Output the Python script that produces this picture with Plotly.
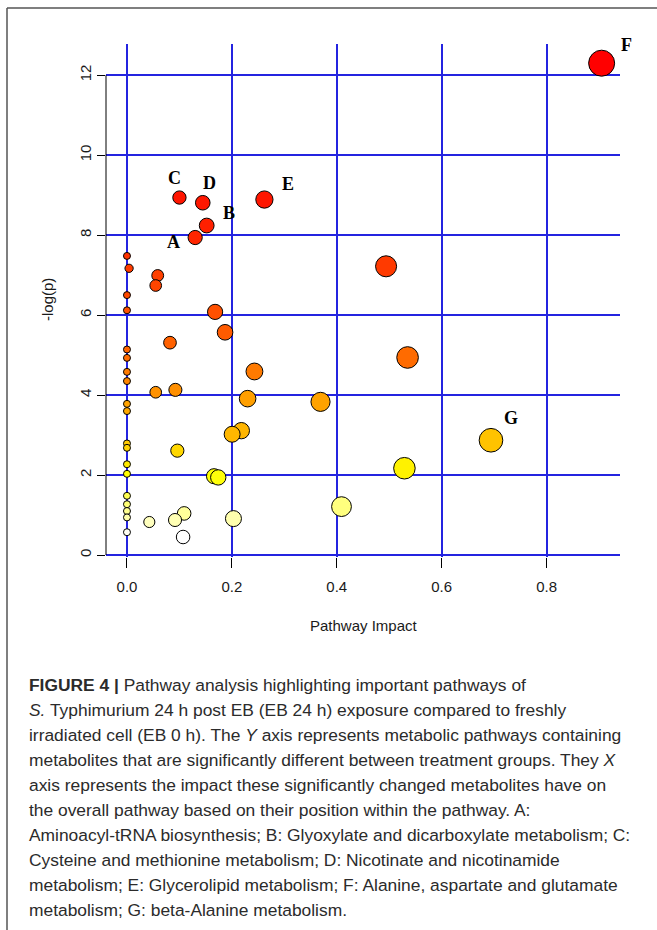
import plotly.graph_objects as go

# ---------------- data ----------------
pathway_label = ["A", "B", "C", "D", "E", "F", "G",
                 "", "", "", "", "", "", "", "", "", "", "", "", "", "", "", "", "", "", "",
                 "", "", "", "", "", "", "", "", "", "", "", "", "", "", "", "", "", "", "", "", "", "", "", ""]
impact = [0.130, 0.152, 0.100, 0.1445, 0.262, 0.905, 0.694,
          0.0, 0.004, 0.0, 0.0, 0.0, 0.0, 0.0, 0.0, 0.0, 0.0, 0.0, 0.0, 0.0, 0.0, 0.0, 0.0, 0.0, 0.0, 0.0,
          0.0586, 0.0548, 0.168, 0.187, 0.082, 0.0548, 0.0923, 0.243, 0.230, 0.218, 0.2005, 0.096,
          0.166, 0.174, 0.109, 0.0916, 0.0426, 0.107, 0.203, 0.369, 0.494, 0.535, 0.529, 0.409]
neg_log_p = [7.94, 8.24, 8.94, 8.81, 8.89, 12.30, 2.87,
             7.48, 7.17, 6.50, 6.12, 5.14, 4.93, 4.58, 4.35, 3.78, 3.60, 2.79, 2.68, 2.27, 2.03, 1.48, 1.27, 1.10, 0.94, 0.57,
             6.99, 6.74, 6.08, 5.57, 5.31, 4.07, 4.13, 4.59, 3.91, 3.11, 3.02, 2.61,
             1.97, 1.94, 1.04, 0.875, 0.825, 0.45, 0.91, 3.83, 7.22, 4.94, 2.17, 1.21]
pathway_label = pathway_label[:len(impact)]

x_ticks = [0.0, 0.2, 0.4, 0.6, 0.8]
x_ticktext = ["0.0", "0.2", "0.4", "0.6", "0.8"]
y_ticks = [0, 2, 4, 6, 8, 10, 12]

caption_lines = [
    "<b>FIGURE 4 |</b> Pathway analysis highlighting important pathways of",
    "<i>S.</i> Typhimurium 24 h post EB (EB 24 h) exposure compared to freshly",
    "irradiated cell (EB 0 h). The <i>Y</i> axis represents metabolic pathways containing",
    "metabolites that are significantly different between treatment groups. They <i>X</i>",
    "axis represents the impact these significantly changed metabolites have on",
    "the overall pathway based on their position within the pathway. A:",
    "Aminoacyl-tRNA biosynthesis; B: Glyoxylate and dicarboxylate metabolism; C:",
    "Cysteine and methionine metabolism; D: Nicotinate and nicotinamide",
    "metabolism; E: Glycerolipid metabolism; F: Alanine, aspartate and glutamate",
    "metabolism; G: beta-Alanine metabolism.",
]

# ---------------- styling ----------------
W, H = 657, 930
PL, PT, PW, PH = 106, 44, 514, 513   # plot area in px


def pxx(x):
    return (x - PL) / PW


def pxy(y):
    return (PT + PH - y) / PH


CMIN, CMAX = 0.45, 12.3
color_stops = [
    (0.45, "#ffffff"), (0.6, "#fffff0"), (0.85, "#ffffb8"), (1.1, "#ffff90"),
    (1.5, "#ffff50"), (2.0, "#ffff00"), (2.3, "#ffe800"), (2.7, "#ffd200"),
    (3.0, "#ffb800"), (3.9, "#ffa000"), (4.1, "#ff9000"), (4.6, "#ff7a00"),
    (5.0, "#ff6800"), (5.6, "#ff5a00"), (6.1, "#ff5000"), (7.0, "#ff4000"),
    (7.5, "#ff3200"), (8.0, "#ff2400"), (9.0, "#ff1400"), (12.3, "#ff0000"),
]
colorscale = [[(v - CMIN) / (CMAX - CMIN), c] for v, c in color_stops]
sizes = [7 + 20 * (v ** 0.5) for v in impact]

label_offsets = {"A": (-22, -4), "B": (22, 13), "C": (-5, 20), "D": (7, 20),
                 "E": (24, 16), "F": (25, 18), "G": (20, 22)}

GRID = "#2424e0"
TXT = "#1a1a1a"

fig = go.Figure()
fig.add_trace(go.Scatter(
    x=impact, y=neg_log_p, mode="markers",
    marker=dict(size=sizes, color=neg_log_p, colorscale=colorscale,
                cmin=CMIN, cmax=CMAX, line=dict(color="#000000", width=1),
                opacity=1),
    hoverinfo="x+y", showlegend=False,
))

annotations = []
for lab, xv, yv in zip(pathway_label, impact, neg_log_p):
    if lab:
        dx, dy = label_offsets[lab]
        annotations.append(dict(
            x=xv, y=yv, xref="x", yref="y", text=lab, showarrow=False,
            xshift=dx, yshift=dy, xanchor="center", yanchor="middle",
            font=dict(family="Liberation Serif", size=18, color="#000000", weight="bold")))

annotations.append(dict(x=pxx(364), y=pxy(625), xref="paper", yref="paper",
                        text="Pathway Impact", showarrow=False, xanchor="center",
                        yanchor="middle", font=dict(family="Liberation Sans", size=15, color=TXT)))
annotations.append(dict(x=pxx(47), y=pxy(300), xref="paper", yref="paper",
                        text="-log(p)", showarrow=False, textangle=-90, xanchor="center",
                        yanchor="middle", font=dict(family="Liberation Sans", size=15, color=TXT)))

for i, line in enumerate(caption_lines):
    annotations.append(dict(x=pxx(27), y=pxy(685 + 25 * i), xref="paper", yref="paper",
                            text=line, showarrow=False, xanchor="left", yanchor="middle",
                            font=dict(family="Liberation Sans", size=17.4, color="#2b2b2b")))

shapes = [
    # y axis line (0 to 12)
    dict(type="line", xref="paper", yref="y", x0=0, x1=0, y0=0, y1=12,
         line=dict(color="#000000", width=1)),
    # frame (top and left)
    dict(type="line", xref="paper", yref="paper", x0=pxx(7), x1=pxx(660), y0=pxy(8), y1=pxy(8),
         line=dict(color="#555555", width=1.5)),
    dict(type="line", xref="paper", yref="paper", x0=pxx(7), x1=pxx(7), y0=pxy(8), y1=pxy(935),
         line=dict(color="#555555", width=1.5)),
]

fig.update_layout(
    width=W, height=H,
    margin=dict(l=PL, r=W - PL - PW, t=PT, b=H - PT - PH, pad=0),
    paper_bgcolor="white", plot_bgcolor="white",
    showlegend=False,
    annotations=annotations, shapes=shapes,
    xaxis=dict(range=[-0.04, 0.94], tickvals=x_ticks, ticktext=x_ticktext,
               showgrid=True, gridcolor=GRID, gridwidth=1.5, zeroline=False,
               showline=False, ticks="outside", ticklen=10, tickcolor="#000000",
               tickwidth=1, ticklabelstandoff=6,
               tickfont=dict(family="Liberation Sans", size=15, color=TXT)),
    yaxis=dict(range=[-0.05, 12.78], tickvals=y_ticks, tickangle=-90,
               showgrid=True, gridcolor=GRID, gridwidth=1.5, zeroline=False,
               showline=False, ticks="outside", ticklen=8, tickcolor="#000000",
               tickwidth=1, ticklabelstandoff=0,
               tickfont=dict(family="Liberation Sans", size=15, color=TXT)),
)

fig.write_html("out.html")
